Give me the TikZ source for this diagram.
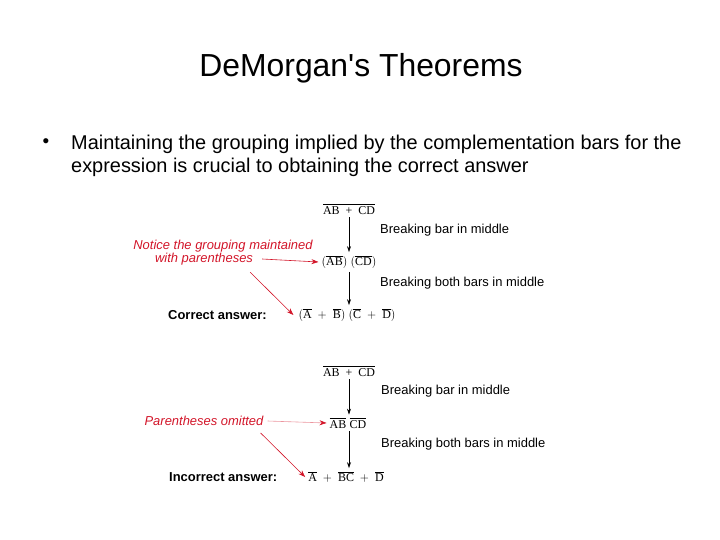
\documentclass[tikz,border=0pt]{standalone}
\usepackage{amsmath}
\usepackage{fontspec}
\setmainfont{Liberation Sans}
\newfontfamily\exprfont{Liberation Serif}
\usetikzlibrary{arrows.meta}
\definecolor{notered}{RGB}{210,20,40}
\newcommand{\ov}[1]{\overline{\text{#1}}}

\begin{document}
\begin{tikzpicture}[x=1bp,y=-1bp,
	expr/.style={font=\fontsize{12}{14}\selectfont\exprfont, inner sep=3pt},
	brk/.style={font=\fontsize{13}{15}\selectfont, anchor=west, inner sep=0pt},
	remark/.style={font=\fontsize{13}{15}\selectfont\itshape, text=notered, inner sep=1pt},
	answer/.style={font=\fontsize{13}{15}\selectfont\bfseries, anchor=west, inner sep=0pt},
	flow/.style={-{Stealth[length=6pt,width=4pt]}, semithick},
	hint/.style={-{Stealth[length=7pt,width=5pt]}, notered, line width=0.6pt}]
			\useasboundingbox (0,0) rectangle (720,540);
			\node (title) at (361,68){\fontsize{32}{38}\selectfont DeMorgan\textquotesingle s Theorems};
			\node (dot) at (46,143){\fontsize{19}{23}\selectfont\textbullet};
			\node[anchor=base west, inner sep=0pt] (line1) at (71,150){\fontsize{20}{24}\selectfont Maintaining the grouping implied by the complementation bars for the};
			\node[anchor=base west, inner sep=0pt] (line2) at (71,173){\fontsize{20}{24}\selectfont expression is crucial to obtaining the correct answer};
			%%%%%%%%%%%%%%%%%%%%%%%%%%%%%%%%
			\node[expr] (top1) at (349,209){$\ov{AB\ \ +\ \ CD}$};
			\node[expr] (mid1) at (349,262){$(\ov{AB})\;(\ov{CD})$};
			\node[expr] (bot1) at (347,315){$(\ov{A}\;+\;\ov{B})\;(\ov{C}\;+\;\ov{D})$};
			\draw[flow] (top1.south)--(top1.south |- mid1.north);
			\draw[flow] (top1.south |- mid1.south)--(top1.south |- bot1.north);
			\node[brk] (brk1) at (380,230){Breaking bar in middle};
			\node[brk] (brk2) at (380,283){Breaking both bars in middle};
			\node[remark] (note1a) at (223,246){Notice the grouping maintained};
			\node[remark] (note1b) at (204,259){with parentheses};
			\draw[hint] (note1b.east)++(8,0)--(mid1.west);
			\draw[hint] ([shift={(-4,6)}]note1b.south east)--([xshift=-2bp]bot1.west);
			\node[answer] (ans1) at (168,315){Correct answer:};
			%%%%%%%%%%%%%%%%%%%%%%%%%%%%%
			\node[expr] (top2) at (349,371){$\ov{AB\ \ +\ \ CD}$};
			\node[expr] (mid2) at (348,423){$\ov{AB}\;\ov{CD}$};
			\node[expr] (bot2) at (346,477){$\ov{A}\;+\;\ov{BC}\;+\;\ov{D}$};
			\draw[flow] (top2.south)--(top2.south |- mid2.north);
			\draw[flow] (top2.south |- mid2.south)--(top2.south |- bot2.north);
			\node[brk] (brk3) at (381,391){Breaking bar in middle};
			\node[brk] (brk4) at (381,444){Breaking both bars in middle};
			\node[remark] (note2) at (204,421){Parentheses omitted};
			\draw[hint, draw=notered!45, -{Stealth[length=7pt,width=5pt,color=notered]}] (note2.east)++(3,0)--(mid2.west);
			\draw[hint] ([shift={(-4,6)}]note2.south east)--(bot2.west);
			\node[answer] (ans2) at (169,477){Incorrect answer:};
		\end{tikzpicture}
\end{document}
